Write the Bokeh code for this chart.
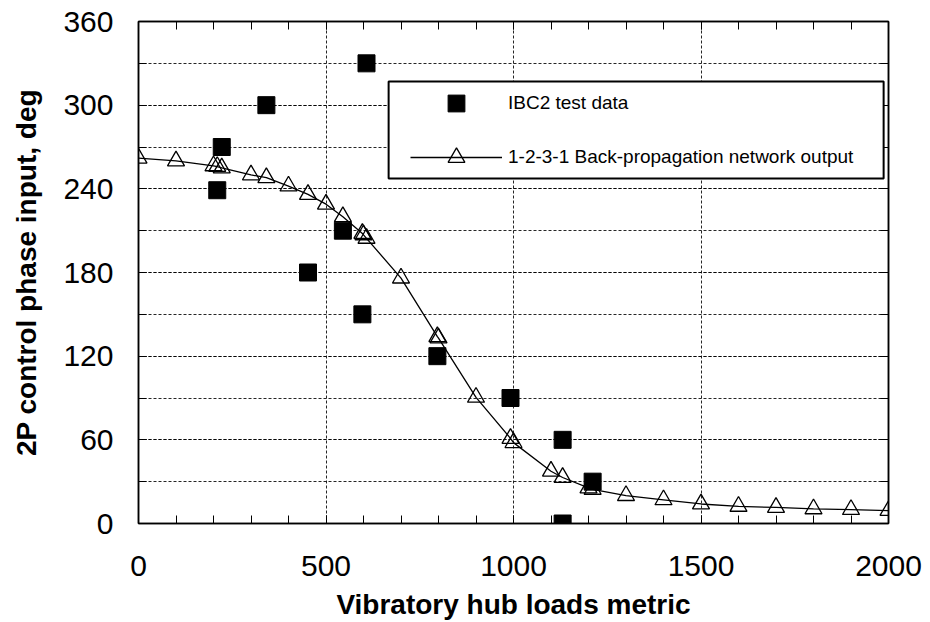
from bokeh.plotting import figure
from bokeh.models import LinearAxis, FixedTicker, Range1d, Legend, LegendItem, BoxAnnotation
from bokeh.embed import file_html
from bokeh.resources import INLINE

# IBC2 test data
test_x = [210, 222, 341, 452, 545, 597, 608, 797, 992, 1131, 1131, 1211]
test_y = [239, 270, 300, 180, 210, 150, 330, 120, 90, 60, 0, 30]

# 1-2-3-1 back-propagation network output
net_x = [0, 100, 200, 210, 222, 300, 341, 400, 452, 500, 545, 597, 600, 608, 700,
         797, 800, 900, 992, 1000, 1100, 1131, 1200, 1211, 1300, 1400, 1500, 1600,
         1700, 1800, 1900, 2000]
net_y = [262, 260, 256.5, 256, 255, 250, 248, 242, 236, 229, 220, 208, 207, 204.5, 176,
         134, 133, 90.5, 61, 58, 37.5, 33, 25.5, 24.5, 20, 17, 14, 12.3,
         11.5, 10.5, 10, 9.3]

x_major = [0, 500, 1000, 1500, 2000]
x_minor = list(range(0, 2001, 100))
y_major = [0, 60, 120, 180, 240, 300, 360]
y_minor = list(range(0, 361, 30))

label_test = "IBC2 test data"
label_net = "1-2-3-1 Back-propagation network output"
x_title = "Vibratory hub loads metric"
y_title = "2P control phase input, deg"

FONT = "Liberation Sans"

p = figure(width=930, height=622, x_range=Range1d(0, 2000), y_range=Range1d(0, 360),
           output_backend="svg", toolbar_location=None,
           min_border_left=138, min_border_right=42, min_border_top=21, min_border_bottom=99)
p.background_fill_color = "white"
p.border_fill_color = "white"
p.outline_line_color = "black"
p.outline_line_width = 1.5

xt = FixedTicker(ticks=x_major, minor_ticks=x_minor)
yt = FixedTicker(ticks=y_major, minor_ticks=y_minor)

p.xaxis.ticker = xt
p.yaxis.ticker = yt
p.xgrid.ticker = xt
p.ygrid.ticker = yt
for g in (p.xgrid, p.ygrid):
    g.grid_line_color = "black"
    g.grid_line_dash = "3 2"
    g.grid_line_width = 1
    g.grid_line_alpha = 0.85
p.ygrid.minor_grid_line_color = "black"
p.ygrid.minor_grid_line_dash = "3 2"
p.ygrid.minor_grid_line_width = 1
p.ygrid.minor_grid_line_alpha = 0.85


def style_axis(ax, show_labels=True):
    ax.axis_line_color = "black"
    ax.axis_line_width = 1.5
    ax.major_tick_in = 8
    ax.major_tick_out = 0
    ax.minor_tick_in = 8
    ax.minor_tick_out = 0
    ax.major_tick_line_color = "black"
    ax.minor_tick_line_color = "black"
    ax.major_tick_line_width = 1
    ax.minor_tick_line_width = 1
    ax.major_label_text_font = FONT
    ax.major_label_text_color = "black"
    if show_labels:
        ax.major_label_text_font_size = "30px"
    else:
        ax.major_label_text_font_size = "0px"
        ax.major_label_standoff = 0


bx = p.xaxis[0]
ly = p.yaxis[0]
style_axis(bx)
style_axis(ly)
bx.major_label_standoff = 32
ly.major_label_standoff = 25

bx.axis_label = x_title
ly.axis_label = y_title
for ax in (bx, ly):
    ax.axis_label_text_font = FONT
    ax.axis_label_text_font_style = "bold"
    ax.axis_label_text_font_size = "28px"
    ax.axis_label_text_color = "black"
bx.axis_label_standoff = 10
ly.axis_label_standoff = 18

top_ax = LinearAxis(ticker=xt)
style_axis(top_ax, show_labels=False)
top_ax.major_label_overrides = {v: "" for v in x_major}
right_ax = LinearAxis(ticker=yt)
style_axis(right_ax, show_labels=False)
right_ax.major_label_overrides = {v: "" for v in y_major}
p.add_layout(top_ax, "above")
p.add_layout(right_ax, "right")

net_line = p.line(net_x, net_y, line_color="black", line_width=1.3)
net_pts = p.scatter(net_x, net_y, marker="triangle", size=17, fill_color=None,
                    line_color="black", line_width=1.3)
test_pts = p.scatter(test_x, test_y, marker="square", size=17, fill_color="black",
                     line_color="black")

box = BoxAnnotation(left=667, right=1987, top=317, bottom=247.5,
                    fill_color="white", fill_alpha=1.0,
                    line_color="black", line_alpha=1.0, line_width=2)
p.add_layout(box)

legend = Legend(items=[LegendItem(label=label_test, renderers=[test_pts]),
                       LegendItem(label=label_net, renderers=[net_line, net_pts])],
                location=(272, 345), padding=0, margin=0,
                border_line_color=None, background_fill_alpha=0,
                glyph_width=92, glyph_height=42, spacing=12, label_standoff=6,
                label_text_font=FONT, label_text_font_size="19px",
                label_text_color="black")
p.add_layout(legend)

open("out.html", "w").write(file_html(p, INLINE))
